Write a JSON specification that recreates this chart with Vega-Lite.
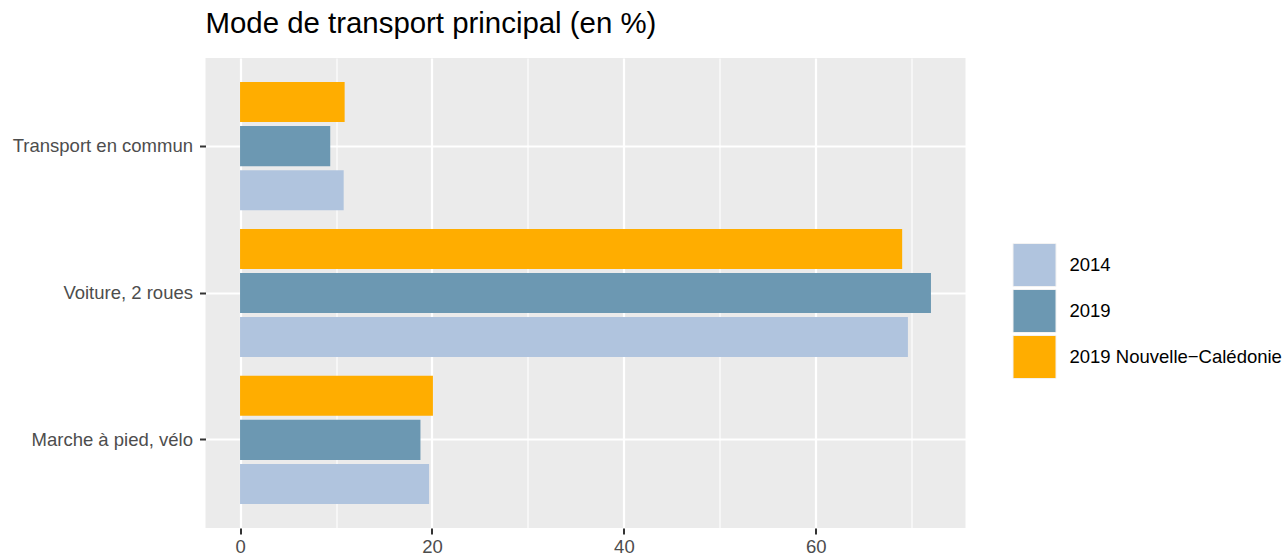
{
  "$schema": "https://vega.github.io/schema/vega-lite/v6.json",
  "autosize": "none",
  "width": 760,
  "height": 470,
  "padding": {"left": 205.5, "top": 58, "right": 318, "bottom": 27},
  "background": "white",
  "title": {
    "text": "Mode de transport principal (en %)",
    "anchor": "start",
    "frame": "group",
    "font": "Liberation Sans",
    "fontSize": 29.4,
    "fontWeight": "normal",
    "color": "black",
    "baseline": "alphabetic",
    "offset": -4
  },
  "config": {
    "view": {"fill": "#EBEBEB", "stroke": null}
  },
  "data": {
    "values": [
      {"mode": "Transport en commun", "serie": "2014", "pct": 10.8},
      {"mode": "Transport en commun", "serie": "2019", "pct": 9.4},
      {"mode": "Transport en commun", "serie": "2019 Nouvelle−Calédonie", "pct": 10.9},
      {"mode": "Voiture, 2 roues", "serie": "2014", "pct": 69.6},
      {"mode": "Voiture, 2 roues", "serie": "2019", "pct": 72.0},
      {"mode": "Voiture, 2 roues", "serie": "2019 Nouvelle−Calédonie", "pct": 69.0},
      {"mode": "Marche à pied, vélo", "serie": "2014", "pct": 19.7},
      {"mode": "Marche à pied, vélo", "serie": "2019", "pct": 18.8},
      {"mode": "Marche à pied, vélo", "serie": "2019 Nouvelle−Calédonie", "pct": 20.1}
    ]
  },
  "mark": {"type": "bar"},
  "encoding": {
    "y": {
      "field": "mode",
      "type": "nominal",
      "sort": ["Transport en commun", "Voiture, 2 roues", "Marche à pied, vélo"],
      "scale": {"paddingInner": 0.1, "paddingOuter": 0.15},
      "axis": {
        "title": null,
        "grid": true,
        "gridColor": "white",
        "gridWidth": 2.2,
        "domain": false,
        "ticks": true,
        "tickColor": "#333333",
        "tickSize": 6,
        "tickWidth": 2,
        "labelFont": "Liberation Sans",
        "labelFontSize": 18.5,
        "labelColor": "#4D4D4D",
        "labelPadding": 7,
        "labelLimit": 400
      }
    },
    "yOffset": {
      "field": "serie",
      "type": "nominal",
      "sort": ["2019 Nouvelle−Calédonie", "2019", "2014"],
      "scale": {"paddingInner": 0.09, "paddingOuter": 0.045}
    },
    "x": {
      "field": "pct",
      "type": "quantitative",
      "scale": {"domain": [-3.6, 75.6], "nice": false, "zero": false},
      "axis": {
        "title": null,
        "values": [0, 10, 20, 30, 40, 50, 60, 70],
        "grid": true,
        "gridColor": "white",
        "gridWidth": {"condition": {"test": "datum.value % 20 === 0", "value": 2.2}, "value": 1.1},
        "tickOpacity": {"condition": {"test": "datum.value % 20 === 0", "value": 1}, "value": 0},
        "labelExpr": "datum.value % 20 === 0 ? datum.label : ''",
        "domain": false,
        "tickColor": "#333333",
        "tickSize": 6,
        "tickWidth": 2,
        "labelFont": "Liberation Sans",
        "labelFontSize": 18.5,
        "labelColor": "#4D4D4D",
        "labelPadding": 3
      }
    },
    "color": {
      "field": "serie",
      "type": "nominal",
      "scale": {
        "domain": ["2014", "2019", "2019 Nouvelle−Calédonie"],
        "range": ["#B0C4DE", "#6C98B2", "#FFAD00"]
      },
      "legend": {
        "title": null,
        "orient": "none",
        "legendX": 807,
        "legendY": 185,
        "padding": 0,
        "symbolType": "square",
        "symbolSize": 1849,
        "symbolStrokeColor": "#F2F2F2",
        "symbolStrokeWidth": 1,
        "symbolOpacity": 1,
        "labelFont": "Liberation Sans",
        "labelFontSize": 18.5,
        "labelColor": "black",
        "labelOffset": 13,
        "labelLimit": 400,
        "rowPadding": -2
      }
    }
  }
}
